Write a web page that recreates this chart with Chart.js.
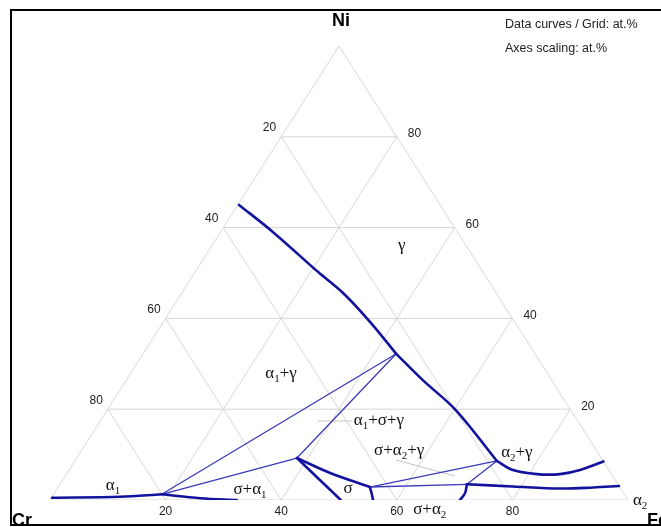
<!DOCTYPE html>
<html>
<head>
<meta charset="utf-8">
<script src="https://cdn.jsdelivr.net/npm/chart.js@4.4.1/dist/chart.umd.min.js"></script>
<style>
  html, body { margin: 0; padding: 0; background: #fff; }
  #wrap { position: relative; width: 661px; height: 527px; }
</style>
</head>
<body>
<div id="wrap"><canvas id="c" width="661" height="527"></canvas></div>
<script>
// Cr-Ni-Fe isothermal section, compositions in at.% (Cr = balance)
const gridTicks = [20, 40, 60, 80];

// gamma / (alpha1+gamma) boundary down to the alpha1+sigma+gamma corner
const gammaUpperFe = [0.2, 9.1, 21.3, 27.9, 35.8, 43.8];
const gammaUpperNi = [65.0, 59.0, 50.2, 45.6, 39.2, 32.2];
// gamma boundary between the two three-phase corners
const gammaMidFe = [43.8, 51.3, 60.3, 73.0];
const gammaMidNi = [32.2, 26.4, 19.8, 8.6];
// gamma / (alpha2+gamma) boundary to the Ni-Fe side
const gammaLowFe = [73.0, 76.8, 81.4, 85.4, 88.4, 91.5];
const gammaLowNi = [8.6, 6.6, 5.7, 5.7, 6.6, 8.5];
// alpha1 solvus along the Cr-Fe side
const alpha1Fe = [0.1, 11.8, 18.7];
const alpha1Ni = [0.5, 0.7, 1.26];
// alpha1 / (sigma+alpha1)
const alpha1SigmaFe = [18.7, 25.8, 32.3];
const alpha1SigmaNi = [1.26, 0.4, 0.0];
// sigma field boundaries
const sigmaLeftFe = [38.1, 50.3];
const sigmaLeftNi = [9.25, 0.0];
const sigmaTopFe = [38.1, 45.5, 53.9];
const sigmaTopNi = [9.25, 5.95, 2.86];
const sigmaRightFe = [53.9, 54.9, 55.9];
const sigmaRightNi = [2.86, 1.48, 0.0];
// alpha2 solvus
const alpha2Fe = [70.4, 78.6, 87.0, 92.6, 96.9];
const alpha2Ni = [3.46, 2.97, 2.53, 2.75, 3.08];
const alpha2HookFe = [70.4, 71.06, 70.9];
const alpha2HookNi = [3.46, 1.48, 0.0];

// tie-triangle edges (thin)
const tieFe = [[43.8, 18.7], [43.8, 38.1], [18.7, 38.1], [53.9, 73.0], [53.9, 70.4], [73.0, 70.4]];
const tieNi = [[32.2, 1.26], [32.2, 9.25], [1.26, 9.25], [2.86, 8.6], [2.86, 3.46], [8.6, 3.46]];

// label leader strokes
const leaderFe = [[37.7, 43.55], [55.5, 67.4]];
const leaderNi = [[17.4, 17.4], [8.8, 5.29]];

// phase field names and where they sit
const phaseNames = ['γ', 'α_1+γ', 'α_1+σ+γ', 'σ+α_2+γ', 'α_2+γ', 'σ', 'σ+α_1', 'α_1', 'σ+α_2', 'α_2'];
const phaseFe = [32.9, 26.1, 48.2, 55.0, 75.6, 50.35, 33.5, 9.36, 66.8, 102.2];
const phaseNi = [55.95, 27.75, 17.4, 10.8, 10.35, 2.42, 2.2, 3.08, -2.2, -0.22];

// ternary -> cartesian (x along Cr-Fe side, y = Ni)
const toXY = (fe, ni) => ({ x: fe + ni / 2, y: ni });
const curve = (fe, ni) => fe.map((f, i) => toXY(f, ni[i]));

const THICK = '#12129e';
const THIN = '#3a3ab8';
const GRID = '#d6d6d6';

const datasets = [];
function addLine(points, color, width, order, tension) {
  datasets.push({
    data: points, showLine: true, pointRadius: 0, borderColor: color,
    borderWidth: width, order: order, tension: tension || 0,
    borderCapStyle: 'round', borderJoinStyle: 'round', fill: false
  });
}

// thick phase boundaries
[[gammaUpperFe, gammaUpperNi], [gammaMidFe, gammaMidNi], [gammaLowFe, gammaLowNi],
 [alpha1Fe, alpha1Ni], [alpha1SigmaFe, alpha1SigmaNi], [sigmaLeftFe, sigmaLeftNi],
 [sigmaTopFe, sigmaTopNi], [sigmaRightFe, sigmaRightNi], [alpha2Fe, alpha2Ni],
 [alpha2HookFe, alpha2HookNi]].forEach(([fe, ni]) => addLine(curve(fe, ni), THICK, 2.6, 0, 0.35));

// tie lines
tieFe.forEach((fe, i) => addLine(curve(fe, tieNi[i]), THIN, 1.3, 1, 0));
// leaders
leaderFe.forEach((fe, i) => addLine(curve(fe, leaderNi[i]), '#c4c4c4', 1, 2, 0));

// composition grid and triangle outline
gridTicks.concat([0]).forEach(t => {
  addLine([toXY(0, t), toXY(100 - t, t)], GRID, 1, 3);          // constant Ni
  addLine([toXY(t, 0), toXY(t, 100 - t)], GRID, 1, 3);          // constant Fe
  addLine([toXY(100 - t, 0), toXY(0, 100 - t)], GRID, 1, 3);    // constant Cr
});

function richText(ctx, str, cx, cy, size) {
  const segs = [];
  for (let i = 0; i < str.length; i++) {
    if (str[i] === '_') { segs.push({ t: str[i + 1], sub: true }); i++; }
    else segs.push({ t: str[i], sub: false });
  }
  const subSize = Math.round(size * 0.62);
  let w = 0;
  segs.forEach(s => {
    ctx.font = (s.sub ? subSize : size) + 'px "Liberation Serif", "Times New Roman", serif';
    s.w = ctx.measureText(s.t).width; w += s.w;
  });
  let x = cx - w / 2;
  ctx.textBaseline = 'middle'; ctx.textAlign = 'left';
  segs.forEach(s => {
    ctx.font = (s.sub ? subSize : size) + 'px "Liberation Serif", "Times New Roman", serif';
    ctx.fillText(s.t, x, s.sub ? cy + size * 0.32 : cy);
    x += s.w;
  });
}

const decorations = {
  id: 'decorations',
  afterDatasetsDraw(chart) {
    const ctx = chart.ctx;
    const sx = chart.scales.x, sy = chart.scales.y;
    const px = (fe, ni) => { const p = toXY(fe, ni); return [sx.getPixelForValue(p.x), sy.getPixelForValue(p.y)]; };
    ctx.save();
    // axis tick numbers
    ctx.fillStyle = '#222';
    ctx.font = '12px Arial, "Liberation Sans", sans-serif';
    ctx.textBaseline = 'middle';
    gridTicks.forEach(t => {
      let [x, y] = px(t, 0);                 // Fe along the bottom
      ctx.textAlign = 'center'; ctx.fillText(String(t), x, y + 12);
      [x, y] = px(0, 100 - t);               // Cr along the left side
      ctx.textAlign = 'right'; ctx.fillText(String(t), x - 5, y - 9);
      [x, y] = px(100 - t, t);               // Ni along the right side
      ctx.textAlign = 'left'; ctx.fillText(String(t), x + 11, y - 3);
    });
    // phase fields
    ctx.fillStyle = '#111';
    phaseNames.forEach((n, i) => {
      const [x, y] = px(phaseFe[i], phaseNi[i]);
      richText(ctx, n, x, y, 17);
    });
    // corner elements
    ctx.fillStyle = '#000';
    ctx.font = 'bold 18px Arial, "Liberation Sans", sans-serif';
    ctx.textBaseline = 'alphabetic';
    ctx.textAlign = 'center'; ctx.fillText('Ni', 341, 26);
    ctx.textAlign = 'left'; ctx.fillText('Cr', 12, 526); ctx.fillText('Fe', 647, 526);
    // notes
    ctx.font = '12.5px Arial, "Liberation Sans", sans-serif';
    ctx.fillStyle = '#222';
    ctx.fillText('Data curves / Grid: at.%', 505, 28);
    ctx.fillText('Axes scaling: at.%', 505, 52);
    // frame
    ctx.strokeStyle = '#000'; ctx.lineWidth = 2;
    ctx.strokeRect(11, 10, 700, 515);
    ctx.restore();
  }
};

new Chart(document.getElementById('c'), {
  type: 'scatter',
  data: { datasets },
  options: {
    responsive: false, animation: false, devicePixelRatio: 1,
    layout: { padding: { left: 50, right: 33, top: 46, bottom: 27 } },
    scales: {
      x: { type: 'linear', min: 0, max: 100, display: false },
      y: { type: 'linear', min: 0, max: 100, display: false }
    },
    plugins: { legend: { display: false }, tooltip: { enabled: false } },
    elements: { point: { radius: 0 } }
  },
  plugins: [decorations]
});
</script>
</body>
</html>
